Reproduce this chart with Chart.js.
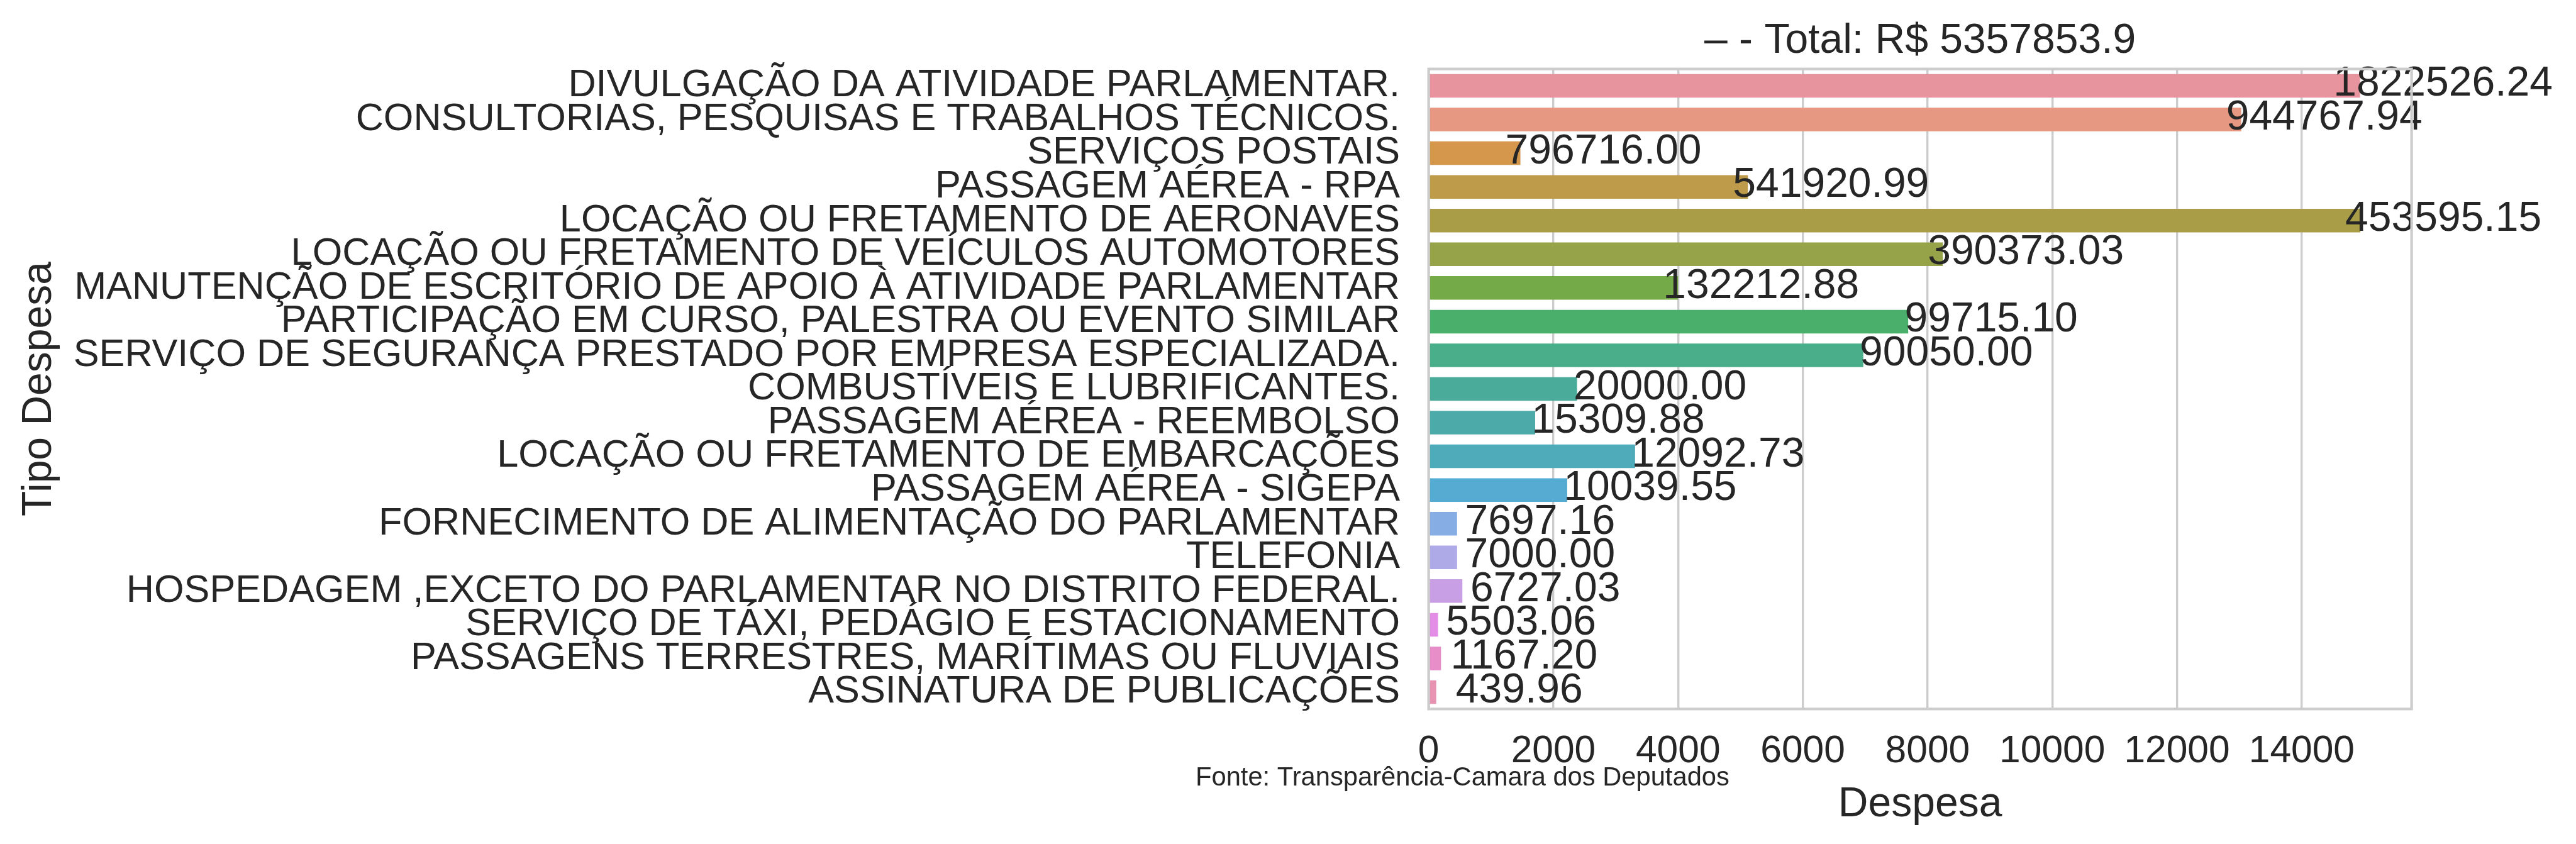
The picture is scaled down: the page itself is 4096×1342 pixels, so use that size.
<!DOCTYPE html>
<html>
<head>
<meta charset="utf-8">
<script src="https://cdn.jsdelivr.net/npm/chart.js@4.4.1/dist/chart.umd.min.js"></script>
<style>
  html, body { margin: 0; padding: 0; background: #ffffff; }
  canvas { display: block; }
</style>
</head>
<body>
<canvas id="chart" width="4096" height="1342"></canvas>
<script>
// Despesas por tipo - barras horizontais com o total anotado

const categories = [
  'DIVULGAÇÃO DA ATIVIDADE PARLAMENTAR.',
  'CONSULTORIAS, PESQUISAS E TRABALHOS TÉCNICOS.',
  'SERVIÇOS POSTAIS',
  'PASSAGEM AÉREA - RPA',
  'LOCAÇÃO OU FRETAMENTO DE AERONAVES',
  'LOCAÇÃO OU FRETAMENTO DE VEÍCULOS AUTOMOTORES',
  'MANUTENÇÃO DE ESCRITÓRIO DE APOIO À ATIVIDADE PARLAMENTAR',
  'PARTICIPAÇÃO EM CURSO, PALESTRA OU EVENTO SIMILAR',
  'SERVIÇO DE SEGURANÇA PRESTADO POR EMPRESA ESPECIALIZADA.',
  'COMBUSTÍVEIS E LUBRIFICANTES.',
  'PASSAGEM AÉREA - REEMBOLSO',
  'LOCAÇÃO OU FRETAMENTO DE EMBARCAÇÕES',
  'PASSAGEM AÉREA - SIGEPA',
  'FORNECIMENTO DE ALIMENTAÇÃO DO PARLAMENTAR',
  'TELEFONIA',
  'HOSPEDAGEM ,EXCETO DO PARLAMENTAR NO DISTRITO FEDERAL.',
  'SERVIÇO DE TÁXI, PEDÁGIO E ESTACIONAMENTO',
  'PASSAGENS TERRESTRES, MARÍTIMAS OU FLUVIAIS',
  'ASSINATURA DE PUBLICAÇÕES'
];

// bar lengths
const barValues = [14935, 13030, 1472, 5120, 14940, 8245, 4000, 7690, 6970, 2380,
                   1708, 3310, 2222, 456, 456, 541, 151, 199, 122];

// totals written next to each bar
const totalLabels = ['1822526.24', '944767.94', '796716.00', '541920.99', '453595.15',
                     '390373.03', '132212.88', '99715.10', '90050.00', '20000.00',
                     '15309.88', '12092.73', '10039.55', '7697.16', '7000.00',
                     '6727.03', '5503.06', '1167.20', '439.96'];

const xTicks = [0, 2000, 4000, 6000, 8000, 10000, 12000, 14000];
const xMax = 15762;

const titleText = '\u2013 - Total: R$ 5357853.9';
const xLabel = 'Despesa';
const yLabel = 'Tipo Despesa';
const sourceText = 'Fonte: Transparência-Camara dos Deputados';

const palette = ['#e8949f', '#e79882', '#d4974b', '#bd9b4b', '#aa9d47', '#96a348',
                 '#74ab48', '#4aaf6a', '#4bae8b', '#4bab9b', '#4caaa9', '#4faaba',
                 '#55abd1', '#86aee4', '#aeaae8', '#c89ee5', '#e38de6', '#e78ec9',
                 '#e893b2'];

const FONT = '"Liberation Sans", Arial, sans-serif';
const TEXT = '#262626';
const GRID = '#cccccc';

// value labels, frame and free texts
const annotatePlugin = {
  id: 'annotate',
  afterDatasetsDraw(chart) {
    const ctx = chart.ctx;
    const meta = chart.getDatasetMeta(0);
    ctx.save();
    ctx.fillStyle = TEXT;
    ctx.font = '66px ' + FONT;
    ctx.textAlign = 'center';
    ctx.textBaseline = 'alphabetic';
    meta.data.forEach((bar, i) => {
      ctx.fillText(totalLabels[i], bar.x + 132, bar.y + 16);
    });
    ctx.restore();
  },
  afterDraw(chart) {
    const ctx = chart.ctx;
    const a = chart.chartArea;
    const cx = (a.left + a.right) / 2;
    ctx.save();
    ctx.strokeStyle = GRID;
    ctx.lineWidth = 4.2;
    ctx.strokeRect(a.left, a.top, a.right - a.left, a.bottom - a.top);

    ctx.fillStyle = TEXT;
    ctx.textAlign = 'center';
    ctx.textBaseline = 'alphabetic';
    ctx.font = '66px ' + FONT;
    ctx.fillText(titleText, cx, 84);
    ctx.fillText(xLabel, cx, 1298);

    ctx.save();
    ctx.translate(81, (a.top + a.bottom) / 2);
    ctx.rotate(-Math.PI / 2);
    ctx.fillText(yLabel, 0, 0);
    ctx.restore();

    ctx.textAlign = 'left';
    ctx.font = '41.7px ' + FONT;
    ctx.fillText(sourceText, 1901, 1249);
    ctx.restore();
  }
};

const ctx = document.getElementById('chart').getContext('2d');
new Chart(ctx, {
  type: 'bar',
  data: {
    labels: categories,
    datasets: [{
      data: barValues,
      backgroundColor: palette,
      borderWidth: 0,
      barPercentage: 0.7,
      categoryPercentage: 1.0
    }]
  },
  options: {
    indexAxis: 'y',
    responsive: false,
    animation: false,
    devicePixelRatio: 1,
    layout: { padding: { top: 109.7, right: 261.4, bottom: 0, left: 0 } },
    plugins: {
      legend: { display: false },
      tooltip: { enabled: false },
      title: { display: false }
    },
    scales: {
      x: {
        type: 'linear',
        min: 0,
        max: xMax,
        afterBuildTicks: (scale) => { scale.ticks = xTicks.map(v => ({ value: v })); },
        ticks: {
          includeBounds: false,
          color: TEXT,
          font: { family: FONT, size: 60.5 },
          padding: 32,
          maxRotation: 0,
          autoSkip: false,
          callback: (value) => String(value)
        },
        grid: { color: GRID, lineWidth: 3.4, drawTicks: false },
        border: { display: false },
        afterFit: (scale) => { scale.height = 214.7; }
      },
      y: {
        ticks: {
          color: TEXT,
          font: { family: FONT, size: 61.2 },
          padding: 45.6,
          autoSkip: false
        },
        grid: { display: false, drawTicks: false },
        border: { display: false },
        afterFit: (scale) => { scale.width = 2271.6; }
      }
    }
  },
  plugins: [annotatePlugin]
});
</script>
</body>
</html>
